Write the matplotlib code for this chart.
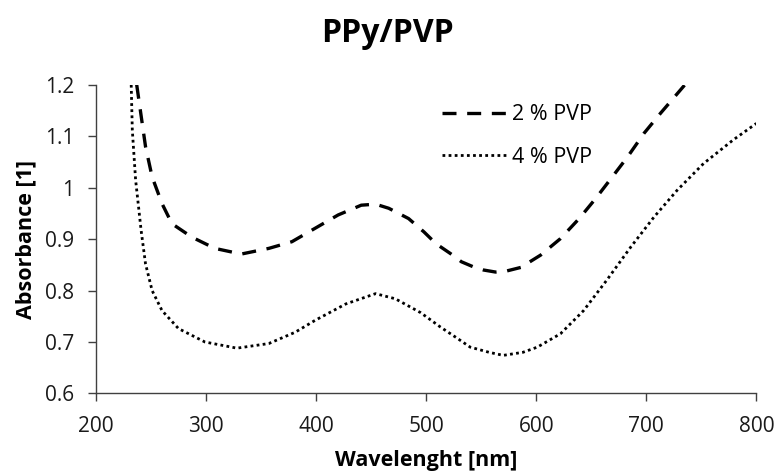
import matplotlib
matplotlib.use('Agg')
import matplotlib.pyplot as plt

plt.rcParams['font.family'] = ['Open Sans', 'DejaVu Sans']

# 2 % PVP (dashed)
wl_2 = [237, 245, 251, 260, 269, 287, 308, 332, 357, 378, 399, 420, 441, 454, 466,
        484, 498, 509, 522, 532, 543, 552, 563, 573, 586, 604, 622, 639, 654, 668,
        683, 698, 713, 735]
abs_2 = [1.20, 1.08, 1.021, 0.969, 0.930, 0.904, 0.882, 0.871, 0.882, 0.895, 0.921,
         0.947, 0.966, 0.968, 0.960, 0.940, 0.914, 0.891, 0.872, 0.856, 0.846, 0.840,
         0.836, 0.838, 0.845, 0.869, 0.901, 0.940, 0.979, 1.018, 1.060, 1.106, 1.145,
         1.20]

# 4 % PVP (dotted)
wl_4 = [232, 233, 236, 241, 245, 251, 260, 275, 299, 328, 357, 381, 399, 427, 454,
        472, 495, 513, 527, 540, 557, 570, 588, 601, 622, 643, 664, 686, 707, 728,
        752, 779, 800]
abs_4 = [1.20, 1.112, 1.015, 0.917, 0.852, 0.800, 0.761, 0.726, 0.700, 0.688, 0.697,
         0.719, 0.742, 0.774, 0.794, 0.784, 0.757, 0.729, 0.709, 0.690, 0.680, 0.674,
         0.680, 0.690, 0.716, 0.761, 0.820, 0.885, 0.943, 0.995, 1.047, 1.093, 1.125]

fig = plt.figure(figsize=(7.76, 4.74), dpi=100)
ax = fig.add_axes([0.1237, 0.170, 0.851, 0.651])

ax.plot(wl_2, abs_2, color='black', lw=2.4, linestyle=(0, (4.2, 3.2)),
        solid_joinstyle='round', label='2 % PVP')
ax.plot(wl_4, abs_4, color='black', lw=2.0, linestyle=(0, (1, 1.2)), label='4 % PVP')

ax.set_xlim(200, 800)
ax.set_ylim(0.6, 1.2)
ax.set_xticks([200, 300, 400, 500, 600, 700, 800])
ax.set_yticks([0.6, 0.7, 0.8, 0.9, 1.0, 1.1, 1.2])
ax.set_yticklabels(['0.6', '0.7', '0.8', '0.9', '1', '1.1', '1.2'])
ax.tick_params(direction='out', length=5.5, width=1, labelsize=15, color='#404040',
               labelcolor='#1a1a1a')
ax.tick_params(axis='x', pad=11)
ax.tick_params(axis='y', pad=10)
ax.spines['top'].set_visible(False)
ax.spines['right'].set_visible(False)
for s in ['left', 'bottom']:
    ax.spines[s].set_color('#404040')
    ax.spines[s].set_linewidth(1)

ax.set_xlabel('Wavelenght [nm]', fontsize=15.5, fontweight='bold', labelpad=9)
ax.set_ylabel('Absorbance [1]', fontsize=15.5, fontweight='bold', labelpad=6)
fig.text(0.499, 1 - 42.3 / 474, 'PPy/PVP', fontsize=23, fontweight='bold',
         ha='center', va='baseline')

ax.legend(loc='upper left', bbox_to_anchor=(0.544, 0.821), bbox_transform=fig.transFigure,
          frameon=False, fontsize=15.5, handlelength=3.0, handletextpad=0.28, labelspacing=1.0)

plt.savefig('out.png', dpi=100)
